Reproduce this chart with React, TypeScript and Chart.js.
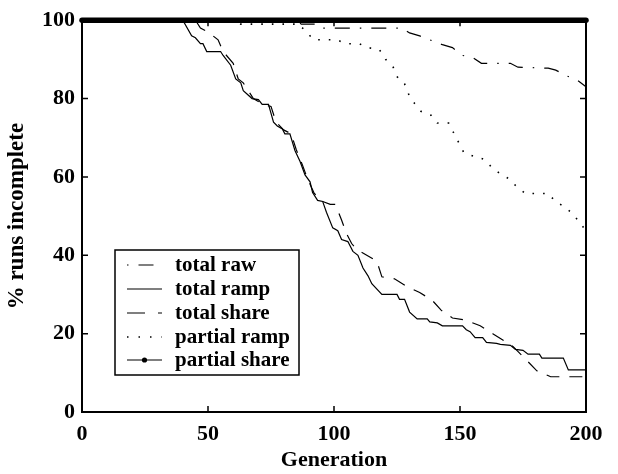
import React, { useEffect, useRef } from "react";
import { Chart, registerables } from "chart.js";

Chart.register(...registerables);

const FONT = '"Liberation Serif", "Times New Roman", serif';

const xTickValues = [0, 50, 100, 150, 200];
const yTickValues = [0, 20, 40, 60, 80, 100];

const legendLabels = ["total raw", "total ramp", "total share", "partial ramp", "partial share"];

const totalRawGen = [0, 85, 87, 93, 95, 127, 130, 134, 139, 143, 147, 151, 155, 158.5, 170, 173, 185, 188, 192.5, 196.5, 200];
const totalRawVal = [100, 100, 99, 99, 98, 98, 96.75, 96, 94.75, 93.75, 93, 91, 90.5, 89, 89, 88, 87.75, 87.25, 85.75, 84.75, 83];

const totalRampGen = [0, 40, 43.5, 45, 47, 48, 49.5, 55, 56, 59, 61, 63, 64, 67.5, 70, 71.5, 74, 76, 77.5, 79.5, 80.5, 82.5, 84.5, 86.5, 88.5, 90.5, 91.5, 93.5, 95.5, 97, 99.5, 101.5, 103, 105.5, 107.5, 109.5, 111.5, 113.5, 115, 119, 125, 126, 128, 130, 133, 137, 138, 141, 143, 151, 152.5, 154, 156, 159, 160.5, 164.5, 166, 170, 172, 175, 177, 181.5, 182.5, 191, 193, 200];
const totalRampVal = [100, 100, 96, 95.5, 94, 94, 92, 92, 91, 88.5, 85, 84, 82, 80, 79.75, 78.5, 78.5, 74, 73, 72.25, 71, 71, 66.75, 64, 60.5, 58.75, 56, 54, 53.75, 51, 47, 46.25, 44, 43.5, 41, 40, 36.75, 34.75, 32.75, 30, 30, 28.75, 28.75, 25.5, 23.75, 23.75, 23, 22.75, 22, 22, 21, 20.5, 19, 19, 17.75, 17.5, 17.25, 17, 16, 15.75, 14.75, 14.75, 13.75, 13.75, 10.75, 10.75];

const totalShareGen = [0, 45, 47, 50, 54, 56, 60, 62, 64, 66, 68, 72, 75, 77, 80, 83, 85, 87.5, 89.5, 92, 94.5, 98.5, 100.5, 103, 105, 107, 109, 113, 117, 119, 124, 129, 134, 139, 142.5, 147, 152, 158, 163, 168, 171, 176, 180.5, 186, 200];
const totalShareVal = [100, 100, 98, 97, 95, 92, 89, 85, 84, 82, 80, 78.5, 78, 74, 72, 71, 67, 63, 59.5, 56, 54, 53, 53, 49, 45.5, 43, 41.5, 40, 38.5, 34.5, 34, 32, 30.5, 28.5, 26, 24, 23.5, 22, 20, 18, 16.75, 13.5, 10.5, 9, 9];

const partialRampGen = [0, 60, 63, 86, 89, 92, 101, 105, 110, 113.5, 118, 120.5, 123.5, 125.5, 128, 130, 132, 134.5, 138.5, 141, 145.5, 147.5, 149.5, 151.5, 155.5, 159.5, 162.5, 166, 169.5, 172.5, 176, 185, 187.5, 191, 194.5, 197, 200];
const partialRampVal = [100, 100, 99, 99, 97, 95, 95, 94, 94, 93, 92.5, 90, 88, 85, 83.75, 80.5, 78.75, 76.75, 75.75, 73.75, 73.75, 71.25, 68.75, 66.25, 65.25, 64.5, 62.5, 60.75, 59.5, 57.5, 55.75, 55.75, 54, 52.5, 50.75, 48.75, 46.25];

const partialShareGen = [0, 200];
const partialShareVal = [100, 100];

function pts(g: number[], v: number[]) {
  return g.map((x, i) => ({ x, y: v[i] }));
}

const framePlugin = {
  id: "frameAndLegend",
  afterDraw(chart: any) {
    const ctx = chart.ctx;
    const { left, right, top, bottom } = chart.chartArea;
    const xs = chart.scales.x;
    const ys = chart.scales.y;
    ctx.save();
    ctx.strokeStyle = "#000";
    ctx.lineWidth = 2;
    ctx.setLineDash([]);
    ctx.strokeRect(left, top, right - left, bottom - top);
    ctx.lineWidth = 1.5;
    const tl = 6;
    xTickValues.forEach((v) => {
      const px = xs.getPixelForValue(v);
      ctx.beginPath();
      ctx.moveTo(px, bottom);
      ctx.lineTo(px, bottom - tl);
      ctx.moveTo(px, top);
      ctx.lineTo(px, top + tl);
      ctx.stroke();
    });
    yTickValues.forEach((v) => {
      const py = ys.getPixelForValue(v);
      ctx.beginPath();
      ctx.moveTo(left, py);
      ctx.lineTo(left + tl, py);
      ctx.moveTo(right, py);
      ctx.lineTo(right - tl, py);
      ctx.stroke();
    });

    // legend
    const bx = 115, by = 250, bw = 184, bh = 125;
    ctx.fillStyle = "#fff";
    ctx.fillRect(bx, by, bw, bh);
    ctx.lineWidth = 1.5;
    ctx.strokeRect(bx, by, bw, bh);
    const rowY = [265, 289, 313, 337, 360];
    const sx0 = 127, sx1 = 162;
    const dashes: number[][] = [[1.5, 10, 15, 20], [], [18, 13, 4, 10], [1.5, 10], []];
    const widths = [1.2, 1.2, 1.2, 1.5, 1.2];
    ctx.font = "bold 21px " + FONT;
    ctx.textBaseline = "middle";
    ctx.textAlign = "left";
    legendLabels.forEach((lab, i) => {
      const y = rowY[i];
      ctx.strokeStyle = "#000";
      ctx.lineWidth = widths[i];
      ctx.setLineDash(dashes[i]);
      ctx.beginPath();
      ctx.moveTo(sx0, y);
      ctx.lineTo(sx1, y);
      ctx.stroke();
      ctx.setLineDash([]);
      if (i === 4) {
        ctx.fillStyle = "#000";
        ctx.beginPath();
        ctx.arc((sx0 + sx1) / 2, y, 2.6, 0, Math.PI * 2);
        ctx.fill();
      }
      ctx.fillStyle = "#000";
      ctx.fillText(lab, 175, y + 1);
    });
    ctx.restore();
  },
};

export default function App() {
  const ref = useRef<HTMLCanvasElement | null>(null);
  useEffect(() => {
    if (!ref.current) return;
    const tickFont = { family: FONT, size: 22, weight: "bold" as const };
    const xTitleFont = { family: FONT, size: 22, weight: "bold" as const };
    const yTitleFont = { family: FONT, size: 23, weight: "bold" as const };
    const chart = new Chart(ref.current, {
      type: "line",
      data: {
        datasets: [
          {
            label: legendLabels[0],
            data: pts(totalRawGen, totalRawVal),
            borderColor: "#000",
            borderWidth: 1.2,
            borderDash: [15, 10, 1.5, 10],
            pointRadius: 0,
            fill: false,
          },
          {
            label: legendLabels[1],
            data: pts(totalRampGen, totalRampVal),
            borderColor: "#000",
            borderWidth: 1.2,
            pointRadius: 0,
            fill: false,
          },
          {
            label: legendLabels[2],
            data: pts(totalShareGen, totalShareVal),
            borderColor: "#000",
            borderWidth: 1.2,
            borderDash: [13, 10],
            pointRadius: 0,
            fill: false,
          },
          {
            label: legendLabels[3],
            data: pts(partialRampGen, partialRampVal),
            borderColor: "#000",
            borderWidth: 1.6,
            borderDash: [1.6, 9],
            pointRadius: 0,
            fill: false,
          },
          {
            label: legendLabels[4],
            data: pts(partialShareGen, partialShareVal),
            borderColor: "#000",
            borderWidth: 5.5,
            borderCapStyle: "round",
            pointRadius: 0,
            fill: false,
            clip: false as any,
          },
        ],
      },
      options: {
        animation: false,
        responsive: false,
        maintainAspectRatio: false,
        layout: { padding: { top: 12, right: 32, left: 0, bottom: 0 } },
        plugins: { legend: { display: false }, tooltip: { enabled: false } },
        scales: {
          x: {
            type: "linear",
            min: 0,
            max: 200,
            ticks: { stepSize: 50, font: tickFont, color: "#000", padding: 9, maxRotation: 0 },
            grid: { display: false, drawTicks: false },
            border: { display: false },
            title: { display: true, text: "Generation", font: xTitleFont, color: "#000", padding: { top: 0, bottom: 0 } },
            afterFit: (s: any) => { s.height = 62; },
          },
          y: {
            type: "linear",
            min: 0,
            max: 100,
            ticks: { stepSize: 20, font: tickFont, color: "#000", padding: 7 },
            grid: { display: false, drawTicks: false },
            border: { display: false },
            title: { display: true, text: "% runs incomplete", font: yTitleFont, color: "#000", padding: { top: 3, bottom: 0 } },
            afterFit: (s: any) => { s.width = 82; },
          },
        },
      },
      plugins: [framePlugin],
    });
    return () => chart.destroy();
  }, []);
  return (
    <div style={{ position: "fixed", left: 0, top: 0, width: 618, height: 474, background: "#fff" }}>
      <canvas ref={ref} width={618} height={474} />
    </div>
  );
}
